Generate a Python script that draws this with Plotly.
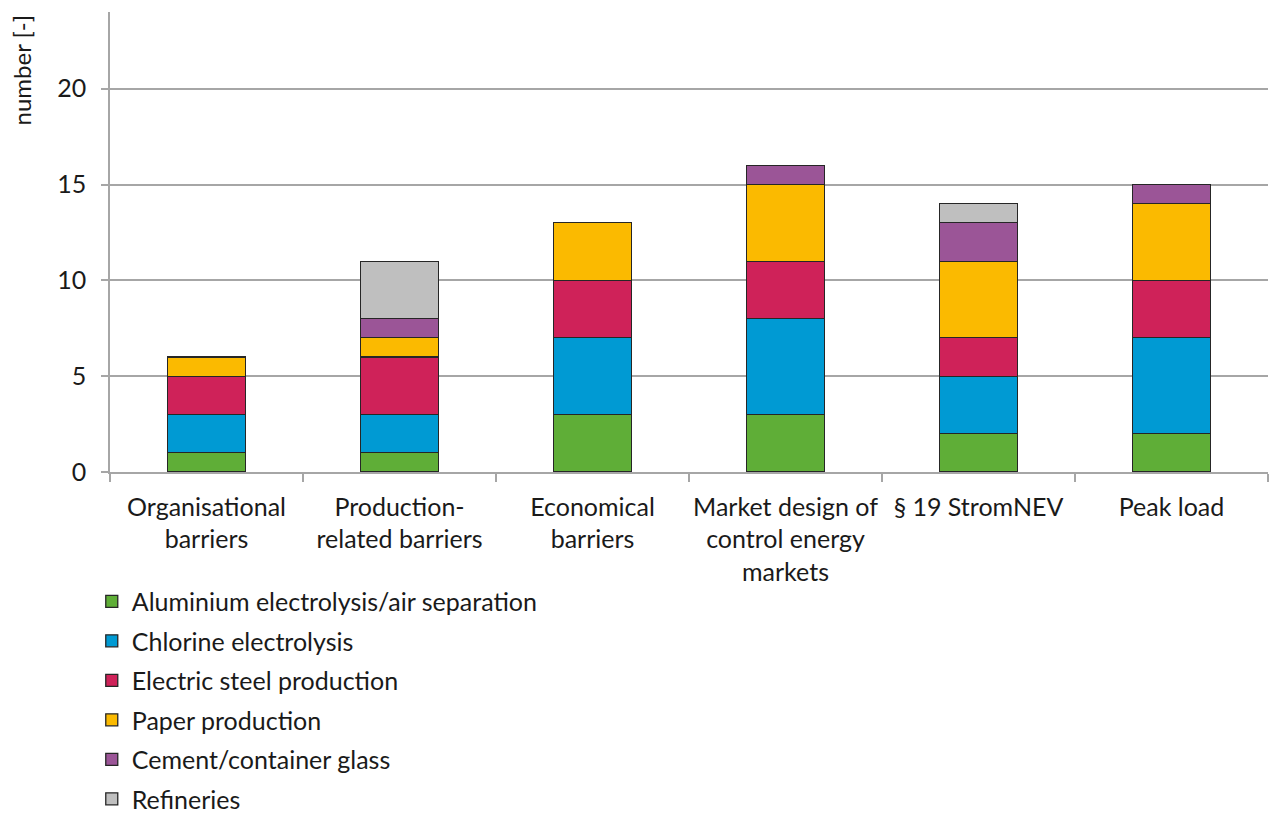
import plotly.graph_objects as go

categories = [
    "Organisational<br>barriers",
    "Production-<br>related barriers",
    "Economical<br>barriers",
    "Market design of<br>control energy<br>markets",
    "§ 19 StromNEV",
    "Peak load",
]

series_names = [
    "Aluminium electrolysis/air separation",
    "Chlorine electrolysis",
    "Electric steel production",
    "Paper production",
    "Cement/container glass",
    "Refineries",
]

aluminium = [1, 1, 3, 3, 2, 2]
chlorine = [2, 2, 4, 5, 3, 5]
steel = [2, 3, 3, 3, 2, 3]
paper = [1, 1, 3, 4, 4, 4]
cement = [0, 1, 0, 1, 2, 1]
refineries = [0, 3, 0, 0, 1, 0]

series_values = [aluminium, chlorine, steel, paper, cement, refineries]
colors = ["#5FAE37", "#009AD3", "#CF2259", "#FBBA00", "#9B5597", "#BFBFBF"]

y_ticks = [0, 5, 10, 15, 20]

FONT = "Lato, Roboto, sans-serif"
FS = 25

fig = go.Figure()
for i, (name, vals, col) in enumerate(zip(series_names, series_values, colors)):
    fig.add_trace(go.Bar(
        x=categories,
        y=vals,
        name=name,
        legendgroup=f"g{i}",
        marker=dict(color=col, line=dict(color="#262626", width=1.3)),
    ))

fig.update_layout(
    barmode="stack",
    bargap=0.595,
    width=1271,
    height=819,
    margin=dict(l=110, r=3, t=12, b=347, autoexpand=False),
    plot_bgcolor="white",
    paper_bgcolor="white",
    font=dict(family=FONT, size=FS, color="#1a1a1a"),
    showlegend=True,
    legend=dict(
        orientation="v",
        xref="container",
        yref="container",
        x=0.0722,
        xanchor="left",
        y=0.2935,
        yanchor="top",
        traceorder="grouped",
        font=dict(family=FONT, size=FS, color="#1a1a1a"),
        itemwidth=30,
        tracegroupgap=4,
    ),
    xaxis=dict(
        showline=True,
        linecolor="#a6a6a6",
        linewidth=1.5,
        ticks="outside",
        tickson="boundaries",
        ticklen=8,
        tickcolor="#a6a6a6",
        tickwidth=1.5,
        showgrid=False,
        tickangle=0,
        ticklabelstandoff=12,
        automargin=False,
        tickfont=dict(family=FONT, size=FS, color="#1a1a1a"),
    ),
    yaxis=dict(
        range=[0, 24],
        tickvals=y_ticks,
        showline=True,
        linecolor="#a6a6a6",
        linewidth=1.5,
        ticks="outside",
        ticklen=7,
        tickcolor="#a6a6a6",
        tickwidth=1.5,
        showgrid=True,
        gridcolor="#a6a6a6",
        gridwidth=1.5,
        zeroline=False,
        automargin=False,
        tickfont=dict(family=FONT, size=FS, color="#1a1a1a"),
        ticklabelstandoff=10,
    ),
    annotations=[
        dict(
            text="number [-]",
            xref="paper", yref="paper",
            x=-0.076, y=1.0,
            xanchor="center", yanchor="top",
            textangle=-90,
            showarrow=False,
            font=dict(family=FONT, size=24, color="#1a1a1a"),
        )
    ],
)

fig.write_html("out.html")
